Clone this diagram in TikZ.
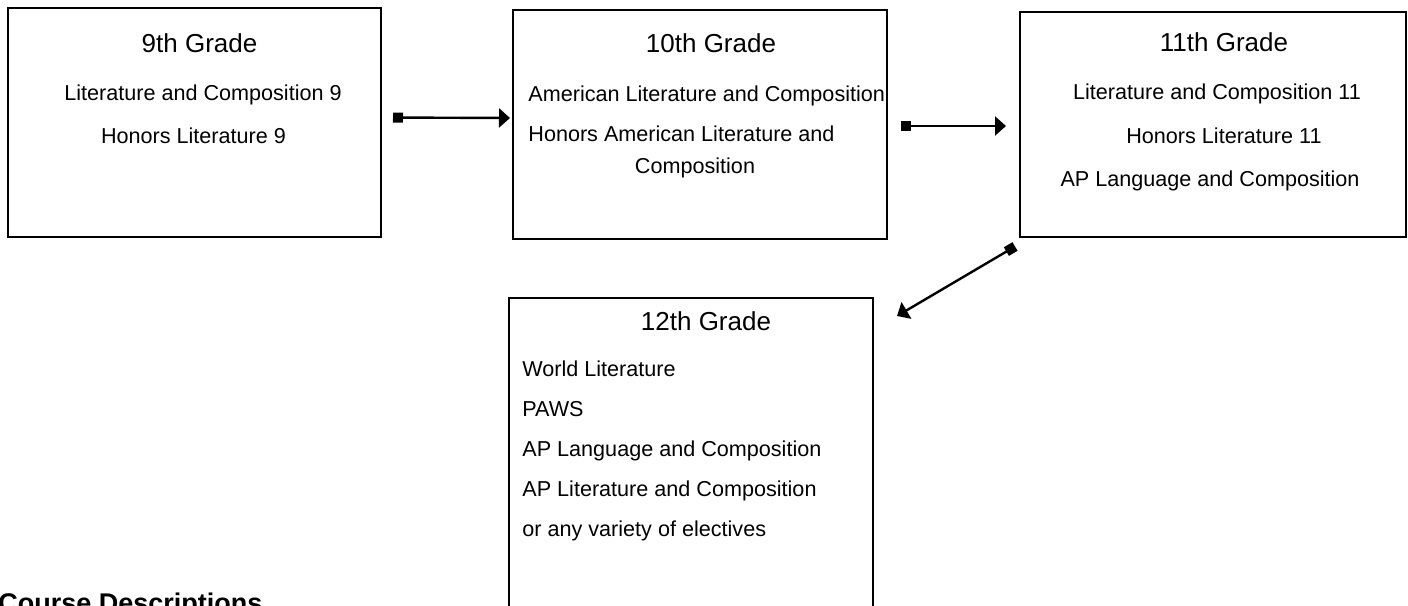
\documentclass[tikz,border=0pt]{standalone}
\usepackage{fontspec}
\setmainfont{Liberation Sans}
\usepackage{tikz}
\usetikzlibrary{arrows.meta}
\tikzstyle{gradebox} = [rectangle, draw = black, line width=1pt, inner sep=0pt]
\tikzstyle{grade} = [inner sep=0pt, anchor=base, font=\fontsize{13}{15}\selectfont]
\tikzstyle{course} = [inner sep=0pt, anchor=base, font=\fontsize{10.8}{13}\selectfont]
\tikzstyle{courseleft} = [course, anchor=base west]
\tikzstyle{arrow} = [{Square[length=5pt,width=5pt]}-{Triangle[length=5.5pt,width=9.5pt]}, line width=1.2pt]

\begin{document}
\begin{tikzpicture}[x=0.5pt, y=-0.5pt]
\useasboundingbox (0,0) rectangle (1408,605);
\clip (0,0) rectangle (1408,605);
%定义方框
\node[gradebox, minimum width=186.5pt, minimum height=114.5pt](g9) at (194.5,122.5){};
\node[gradebox, minimum width=187pt, minimum height=114.5pt](g10) at (700,124.5){};
\node[gradebox, minimum width=193pt, minimum height=112.5pt](g11) at (1213,124.5){};
\node[gradebox, minimum width=182pt, minimum height=176pt](g12) at (691,474){};
%方框文字
\node[grade](t9) at (199.5,53){9th Grade};
\node[course](t9a) at (203,100){Literature and Composition 9};
\node[course](t9b) at (193.5,143){Honors Literature 9};
\node[grade](t10) at (711,52){10th Grade};
\node[courseleft](t10a) at (528,101){American Literature and Composition};
\node[courseleft](t10b) at (528,141){Honors American Literature and};
\node[course](t10c) at (695,173){Composition};
\node[grade](t11) at (1224,51){11th Grade};
\node[course](t11a) at (1217,99){Literature and Composition 11};
\node[course](t11b) at (1224,143){Honors Literature 11};
\node[course](t11c) at (1210,186){AP Language and Composition};
\node[grade](t12) at (706,330){12th Grade};
\node[courseleft](t12a) at (522,376){World Literature};
\node[courseleft](t12b) at (522,416){PAWS};
\node[courseleft](t12c) at (522,456){AP Language and Composition};
\node[courseleft](t12d) at (522,496){AP Literature and Composition};
\node[courseleft](t12e) at (522,536){or any variety of electives};
\node[inner sep=0pt, anchor=base west, font=\fontsize{13.5}{16}\selectfont\bfseries](desc) at (-2,612){Course Descriptions};
%连接方框
\draw [arrow, shorten <=5.5pt, shorten >=1pt] ([yshift=2.5pt]g9.east) -- ([yshift=3.25pt]g10.west);
\draw [arrow, shorten <=6.5pt, shorten >=6.5pt] ([yshift=-0.75pt]g10.east) -- ([yshift=-0.75pt]g11.west);
\draw [arrow] ([xshift=-2pt, yshift=-4.25pt]g11.south west) -- ([xshift=11.5pt, yshift=-9.5pt]g12.north east);
\end{tikzpicture}
\end{document}
